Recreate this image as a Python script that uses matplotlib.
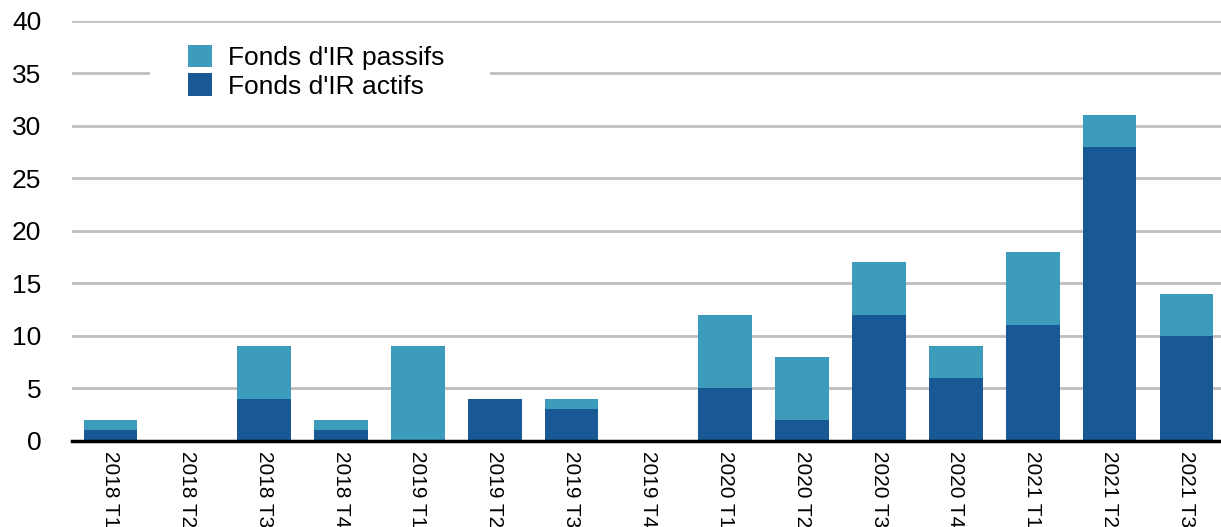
import numpy as np
import matplotlib.pyplot as plt
from matplotlib.patches import Rectangle

plt.rcParams['font.family'] = ['Liberation Sans', 'DejaVu Sans']

# Données
trimestres = ['2018 T1', '2018 T2', '2018 T3', '2018 T4',
              '2019 T1', '2019 T2', '2019 T3', '2019 T4',
              '2020 T1', '2020 T2', '2020 T3', '2020 T4',
              '2021 T1', '2021 T2', '2021 T3']
actifs = [1, 0, 4, 1, 0, 4, 3, 0, 5, 2, 12, 6, 11, 28, 10]
passifs = [1, 0, 5, 1, 9, 0, 1, 0, 7, 6, 5, 3, 7, 3, 4]

c_actifs = '#175895'
c_passifs = '#3d9bbc'
fs = 19

fig = plt.figure(figsize=(12.21, 5.27), dpi=100)
ax = fig.add_axes([0.059, 0.1632, 0.941, 0.7970])

x = np.arange(len(trimestres))
ax.bar(x, actifs, width=0.7, color=c_actifs, label="Fonds d'IR actifs", zorder=3)
ax.bar(x, passifs, width=0.7, bottom=actifs, color=c_passifs,
       label="Fonds d'IR passifs", zorder=3)

ax.set_ylim(0, 40)
ax.set_xlim(-0.5, 14.45)
ax.set_yticks(range(0, 41, 5))
ax.set_xticks(x)
ax.set_xticklabels(trimestres, rotation=270, va='top', ha='center')
ax.tick_params(axis='both', length=0)
ax.tick_params(axis='y', pad=22, labelsize=fs)
ax.tick_params(axis='x', pad=7, labelsize=15)

ax.grid(axis='y', color='#bfbfbf', linewidth=2, zorder=0)
for s in ['top', 'right', 'left']:
    ax.spines[s].set_visible(False)
ax.spines['bottom'].set_linewidth(2.5)
ax.spines['bottom'].set_color('black')
ax.spines['bottom'].set_zorder(4)

# fond blanc de la légende
fig.patches.append(Rectangle((150 / 1221, 1 - 112 / 527), 340 / 1221, 80 / 527,
                             transform=fig.transFigure, facecolor='white',
                             edgecolor='none', zorder=2))

handles, labels = ax.get_legend_handles_labels()
leg = fig.legend(handles[::-1], labels[::-1], loc='upper left',
                 bbox_to_anchor=(188 / 1221, 1 - 45 / 527),
                 frameon=False, fontsize=fs, handlelength=0.9, handleheight=0.92,
                 handletextpad=0.6, labelspacing=0.12, borderpad=0,
                 borderaxespad=0)

fig.savefig('out.png', dpi=100)
